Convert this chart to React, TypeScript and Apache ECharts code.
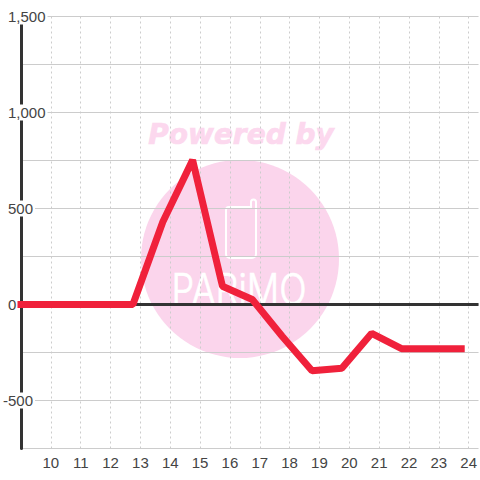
import React, { useEffect, useRef } from "react";
import * as echarts from "echarts";

const hours = [9, 9.75, 10.75, 11.75, 12.75, 13.75, 14.75, 15.75, 16.75, 17.75, 18.75, 19.75, 20.75, 21.75, 22.75, 23.75];
const values = [0, 0, 0, 0, 0, 430, 752, 95, 26, -165, -345, -332, -150, -230, -230, -230];
const baselineX = [9, 24.33];
const baselineY = [0, 0];
const labelledTicks = [-500, 0, 500, 1000, 1500];

const PHONE =
  "M229 207 H251 V202 A2.5 2.5 0 0 1 256 202 V254 A4 4 0 0 1 252 258 H230 A4 4 0 0 1 226 254 V210 A3 3 0 0 1 229 207 Z";
echarts.graphic.registerShape("phoneLogo", echarts.graphic.extendPath(PHONE as any, {}));

export default function App() {
  const ref = useRef<HTMLDivElement>(null);
  useEffect(() => {
    const chart = echarts.init(ref.current!, null, { renderer: "svg" });
    chart.setOption({
      animation: false,
      backgroundColor: "#fff",
      textStyle: { fontFamily: "Liberation Sans" },
      grid: { left: 20, top: 16.5, right: 0, bottom: 31.5 },
      graphic: {
        elements: [
          { type: "circle", z: -1, shape: { cx: 240, cy: 259, r: 99 }, style: { fill: "#fbd5ec" } },
          {
            type: "text", z: -1, x: 241, y: 134,
            style: {
              text: "Powered by", fill: "#fcd8ee", stroke: "#fcd8ee", lineWidth: 0.7, align: "center", verticalAlign: "middle",
              font: "italic bold 28px 'DejaVu Sans'",
            },
          },
          { type: "phoneLogo", z: -1, x: 0, y: 0, style: { fill: "none", stroke: "#fff", lineWidth: 2 } },
          {
            type: "text", z: -1, x: 239, y: 289, scaleY: 1.2,
            style: {
              text: "PARiMO", fill: "#fff", stroke: "#fff", lineWidth: 0.6, align: "center", verticalAlign: "middle",
              font: "300 36px Inter",
            },
          },
        ],
      },
      xAxis: {
        type: "value", min: 9, max: 24.33, interval: 1,
        axisLine: { show: false }, axisTick: { show: false },
        splitLine: { show: true, showMaxLine: false, lineStyle: { color: "#ccc", width: 1, type: [2, 3] } },
        axisLabel: {
          color: "#444", fontSize: 15, margin: 6,
          showMaxLabel: false,
          formatter: (v: number) => (v === 9 || v > 24 ? "" : String(v)),
        },
      },
      yAxis: {
        type: "value", min: -750, max: 1500, interval: 250,
        axisLine: { show: true, onZero: false, lineStyle: { color: "#333", width: 3 } },
        axisTick: { show: false },
        splitLine: { show: true, lineStyle: { color: "#ccc", width: 1 } },
        axisLabel: {
          align: "left", margin: 18, color: "#444", fontSize: 15,
          formatter: (v: number) => {
            if (!labelledTicks.includes(v)) return "";
            const s = v.toLocaleString("en-US");
            return v < 0 ? `{n|${s}}` : `{p|${s}}`;
          },
          rich: {
            n: { color: "#444", fontSize: 15, height: 16, lineHeight: 16, backgroundColor: "#fff", padding: [0, 2, 0, 0] },
            p: { color: "#444", fontSize: 15, height: 16, lineHeight: 16, backgroundColor: "#fff", padding: [0, 2, 0, 5] },
          },
        },
      },
      series: [
        {
          name: "baseline", type: "line", z: 1, symbol: "none", silent: true,
          data: baselineX.map((x, i) => [x, baselineY[i]]),
          lineStyle: { color: "#333", width: 3 },
        },
        {
          name: "value", type: "line", z: 3, symbol: "none", clip: false,
          data: hours.map((x, i) => [x, values[i]]),
          lineStyle: { color: "#f0213b", width: 7, cap: "square", join: "bevel" },
        },
      ],
    });
    return () => chart.dispose();
  }, []);
  return <div ref={ref} style={{ position: "fixed", left: 0, top: 0, width: 480, height: 480 }} />;
}
